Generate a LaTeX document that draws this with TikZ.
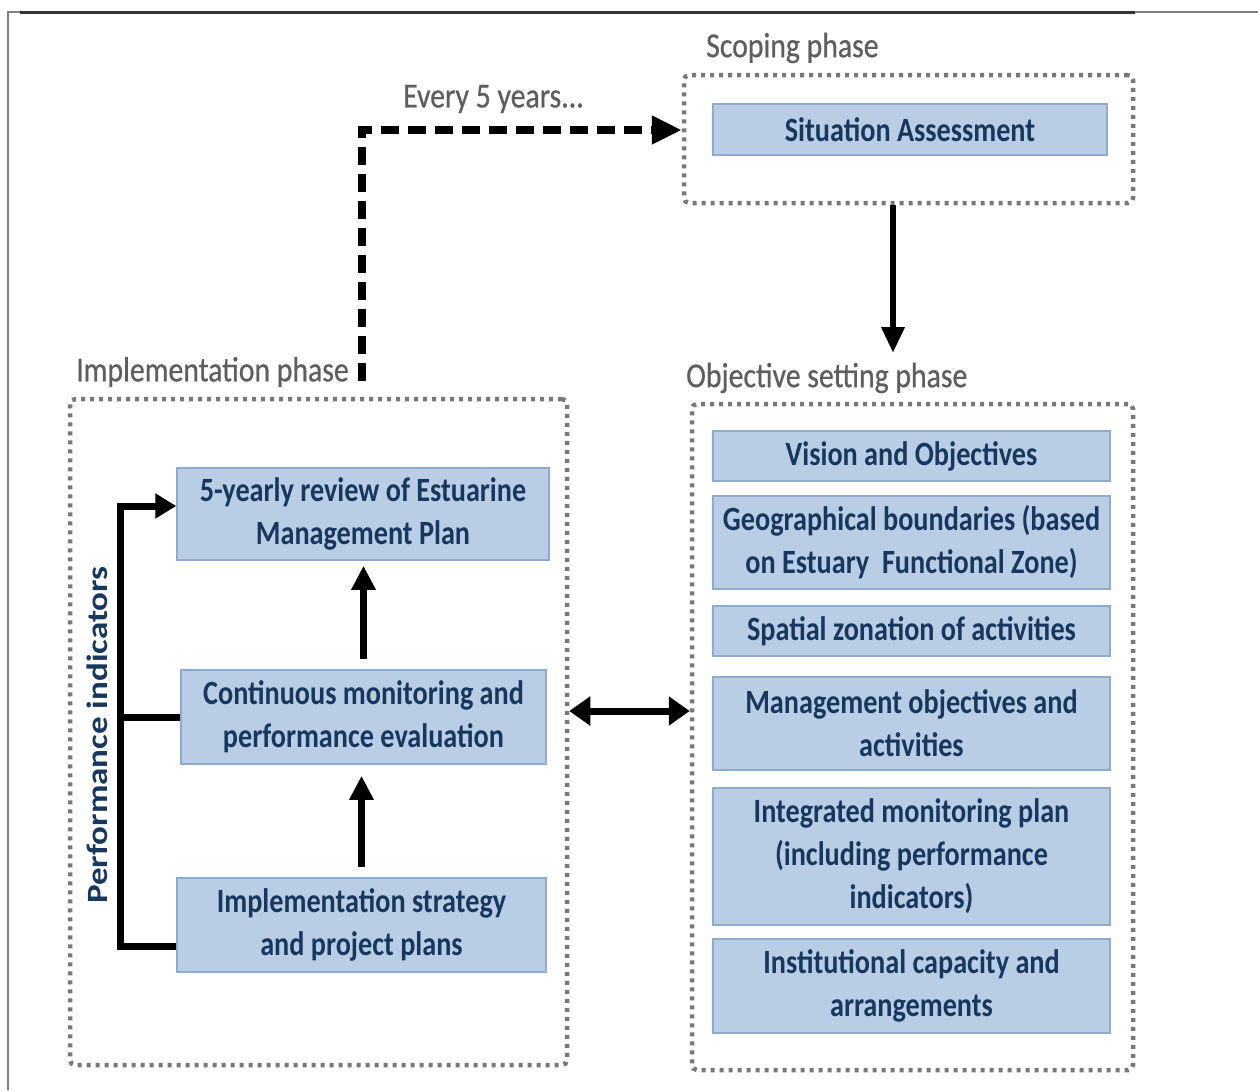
\documentclass[tikz,border=0pt]{standalone}
\usepackage{fontspec}
\setmainfont{Carlito}[FakeStretch=0.83]
\newfontfamily\plainfont{Carlito}
\newfontfamily\lblfont{Carlito}[FakeStretch=0.85,FakeBold=0.6]
\usetikzlibrary{arrows.meta}
\definecolor{boxfill}{HTML}{B9CDE5}
\definecolor{boxline}{HTML}{8FAAD0}
\definecolor{boxtext}{HTML}{17375E}
\definecolor{lblc}{HTML}{5E5E5E}
\definecolor{dotc}{HTML}{787878}
\definecolor{framec}{HTML}{333333}
\begin{document}
\begin{tikzpicture}[x=1pt,y=-1pt,
  box/.style={draw=boxline, fill=boxfill, line width=1.5pt, inner sep=0pt, align=center,
    text=boxtext, font=\fontsize{34}{43}\selectfont\bfseries},
  phasebox/.style={draw=dotc, line width=4.5pt, dash pattern=on 4pt off 5pt, rounded corners=5pt, inner sep=0pt},
  phaselbl/.style={text=lblc, font=\lblfont\fontsize{35}{40}\selectfont, inner sep=0pt, anchor=west},
  arr/.style={line width=6.5pt, -{Triangle[length=24pt,width=23pt]}},
  bar/.style={line width=7pt, line join=miter},
  dasharr/.style={line width=7.5pt, dash pattern=on 18pt off 9pt, -{Triangle[length=30pt,width=27pt]}},
  dblarr/.style={line width=7pt, {Triangle[length=21pt,width=28pt]}-{Triangle[length=21pt,width=28pt]}}
]
\useasboundingbox (0,0) rectangle (1258,1090);
% frame
\draw[gray, line width=2pt] (8,1090) -- (8,12) -- (1258,12);
\draw[framec, line width=3pt] (20,12) -- (1135,12);

% scoping phase
\node[phasebox, minimum width=449pt, minimum height=128pt] (scop) at (908.5,139) {};
\node[phaselbl] (scopl) at (706,48) {Scoping phase};
\node[box, minimum width=394pt, minimum height=51pt] (sa) at (910,129.5) {Situation Assessment};

% objective setting phase
\node[phasebox, minimum width=441pt, minimum height=666pt] (obj) at (912.5,737) {};
\node[phaselbl] (objl) at (686,378) {Objective setting phase};
\node[box, minimum width=397pt, minimum height=50pt] (o1) at (911.5,456) {Vision and Objectives};
\node[box, minimum width=397pt, minimum height=93pt] (o2) at (911.5,542.5) {Geographical boundaries (based\\on Estuary\ \ Functional Zone)};
\node[box, minimum width=397pt, minimum height=50pt] (o3) at (911.5,631) {Spatial zonation of activities};
\node[box, minimum width=397pt, minimum height=93pt] (o4) at (911.5,723.5) {Management objectives and\\activities};
\node[box, minimum width=397pt, minimum height=137pt] (o5) at (911.5,856.5) {Integrated monitoring plan\\(including performance\\indicators)};
\node[box, minimum width=397pt, minimum height=94pt] (o6) at (911.5,986) {Institutional capacity and\\arrangements};

% implementation phase
\node[phasebox, minimum width=497pt, minimum height=666pt] (impl) at (318.5,732) {};
\node[phaselbl] (impll) at (76,372) {Implementation phase};
\node[box, minimum width=372pt, minimum height=92pt] (a) at (363,514) {5-yearly review of Estuarine\\Management Plan};
\node[box, minimum width=365pt, minimum height=94pt] (b) at (363.5,717) {Continuous monitoring and\\performance evaluation};
\node[box, minimum width=369pt, minimum height=94pt] (c) at (361.5,925) {Implementation strategy\\and project plans};

\node[rotate=90, text=boxtext, inner sep=0pt, font=\plainfont\fontsize{35}{40}\selectfont\bfseries] (perf) at (97,735)
  {\scalebox{1}[0.84]{Performance indicators}};

% every 5 years
\node[phaselbl] (every) at (403,99) {Every 5 years...};
\coordinate (dstart) at (362,381);
\draw[dasharr] (dstart) |- ([yshift=9pt]scop.west);

% scoping -> objective
\coordinate (dtip) at (893,353);
\draw[arr, -{Triangle[length=26pt,width=22pt]}] (scop.south -| dtip) -- (dtip);

% double arrow
\coordinate (dbl) at (0,711);
\draw[dblarr] (impl.east |- dbl) -- (obj.west |- dbl);

% implementation arrows
\draw[arr, shorten <=10pt, shorten >=11pt] (c.north) -- (c.north |- b.south);
\draw[arr, shorten <=10pt, shorten >=5pt] (b.north) -- (b.north |- a.south);

% performance indicators bracket
\coordinate (ptop) at (120,506);
\coordinate (pbot) at (120,946);
\draw[bar, -{Triangle[length=21pt,width=24pt]}] (c.west |- pbot) -- (pbot) -- (ptop) -- (a.west |- ptop);
\draw[bar] (ptop |- b.west) -- (b.west);
\end{tikzpicture}
\end{document}
